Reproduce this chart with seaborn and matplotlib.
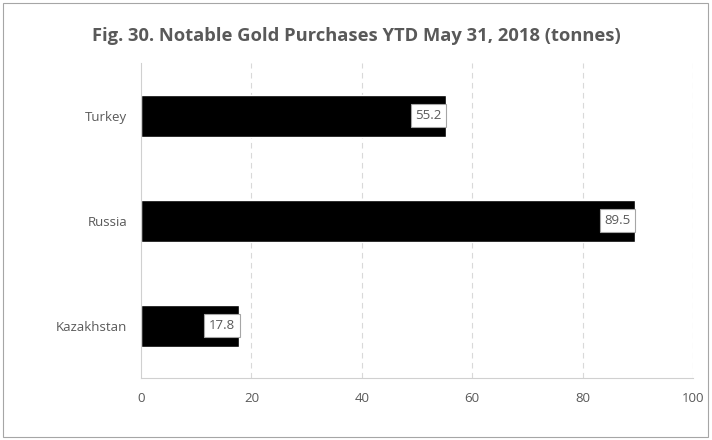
import pandas as pd
import numpy as np
import matplotlib.pyplot as plt
import seaborn as sns
from matplotlib.patches import Rectangle

countries = ["Turkey", "Russia", "Kazakhstan"]
tonnes = [55.2, 89.5, 17.8]
xticks = [0, 20, 40, 60, 80, 100]

df = pd.DataFrame({"country": countries, "tonnes": tonnes})

sns.set_style("white")
plt.rcParams["font.family"] = ["Open Sans", "DejaVu Sans"]
grey = "#595959"

fig = plt.figure(figsize=(7.12, 4.40), dpi=100)
ax = fig.add_axes([141/712, 1-378/440, (693-141)/712, (378-63)/440])

sns.barplot(data=df, y="country", x="tonnes", color="black", width=0.4,
            orient="h", ax=ax, saturation=1)

ax.set_xlim(0, 100)
ax.set_ylim(2.5, -0.5)
ax.set_xticks(xticks)
ax.set_xticklabels([str(t) for t in xticks], color=grey, fontsize=9.5)
ax.tick_params(axis="y", which="major", length=0, labelsize=9.5, labelcolor=grey, pad=10)
ax.tick_params(axis="x", which="major", length=0, pad=10)
ax.set_yticks([-0.5, 0.5, 1.5, 2.5], minor=True)
ax.tick_params(axis="y", which="minor", length=5, color="#d0d0d0", direction="out")
ax.set_xlabel("")
ax.set_ylabel("")

for x in xticks[1:]:
    ax.axvline(x, color="#d9d9d9", lw=0.8, ls=(0, (5, 4)), zorder=0)

for s in ["top", "right"]:
    ax.spines[s].set_visible(False)
ax.spines["left"].set_color("#d0d0d0")
ax.spines["bottom"].set_color("#d0d0d0")

for i, v in enumerate(tonnes):
    ax.annotate(f"{v}", (v, i), xytext=(-3, 0), textcoords="offset points",
                ha="right", va="center", fontsize=9.5, color=grey,
                bbox=dict(boxstyle="square,pad=0.35", fc="white", ec="#a6a6a6", lw=0.8))

fig.text(0.5, 1-36/440, "Fig. 30. Notable Gold Purchases YTD May 31, 2018 (tonnes)",
         ha="center", va="center", fontsize=13.2, fontweight="bold", color=grey)

fig.patches.append(Rectangle((3/712, 3/440), 705/712, 434/440, transform=fig.transFigure,
                             fill=False, ec="#a6a6a6", lw=0.8))

fig.savefig("out.png", dpi=100)
